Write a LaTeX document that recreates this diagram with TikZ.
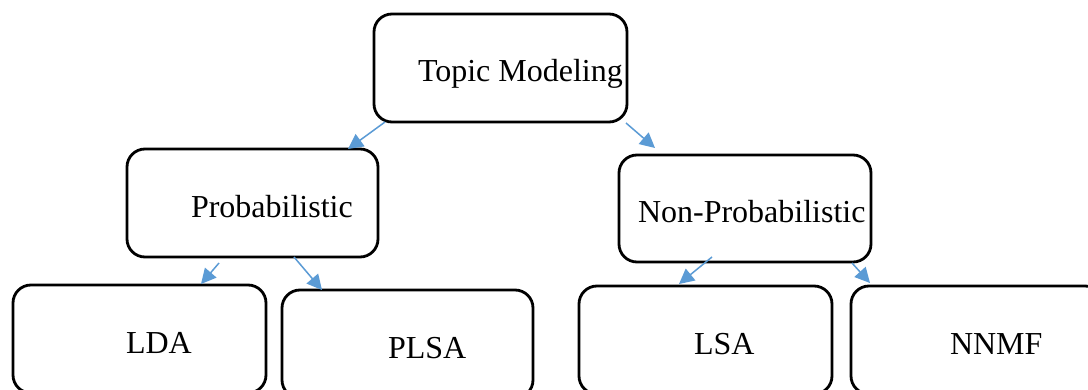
\documentclass[tikz,border=0pt]{standalone}
\usepackage{fontspec}
\setmainfont{Liberation Serif}
\usetikzlibrary{arrows.meta,calc}
\definecolor{linkblue}{RGB}{91,155,213}
\tikzset{
  box/.style={draw=black, line width=2.8pt, rounded corners=18pt, rectangle,
              minimum height=108pt, inner sep=0pt, outer sep=0pt},
  lbl/.style={anchor=base west, inner sep=0pt, outer sep=0pt,
              font=\fontsize{32}{36}\selectfont},
  link/.style={draw=linkblue, line width=1.5pt,
               -{Triangle[length=15pt,width=15pt]}}
}
\begin{document}
\begin{tikzpicture}[x=1pt,y=-1pt]
  \useasboundingbox (0,0) rectangle (1088,390);
  \clip (0,0) rectangle (1088,390);
  \fill[white] (0,0) rectangle (1088,390);

  % boxes
  \node[box, minimum width=253pt] (tm)   at (500.5,68)  {};
  \node[box, minimum width=251pt] (prob) at (252.5,203) {};
  \node[box, minimum width=252pt, minimum height=107pt] (nonp) at (745,208.5) {};
  \node[box, minimum width=253pt] (lda)  at (139.5,339) {};
  \node[box, minimum width=251pt] (plsa) at (407.5,344) {};
  \node[box, minimum width=253pt] (lsa)  at (705.5,340) {};
  \node[box, minimum width=252pt] (nnmf) at (977,340)   {};

  % labels
  \node[lbl] (tm-t)   at (418,82)  {Topic Modeling};
  \node[lbl] (prob-t) at (191,218) {Probabilistic};
  \node[lbl] (nonp-t) at (638,223) {Non-Probabilistic};
  \node[lbl] (lda-t)  at (126,353) {LDA};
  \node[lbl] (plsa-t) at (388,359) {PLSA};
  \node[lbl] (lsa-t)  at (694,355) {LSA};
  \node[lbl] (nnmf-t) at (950,355) {NNMF};

  % connectors
  \draw[link] ($(tm.south west)+(11,0)$)   -- ($(prob.north east)+(-30,0)$);
  \draw[link] ($(tm.south east)+(-1,1)$)   -- ($(nonp.north west)+(36,-7)$);
  \draw[link] ($(prob.south west)+(92,6)$) -- ($(lda.north west)+(188,-1)$);
  \draw[link] ($(prob.south west)+(167,0)$) -- ($(plsa.north west)+(40,0)$);
  \draw[link] ($(nonp.south west)+(93,-5)$) -- ($(lsa.north west)+(100,-2)$);
  \draw[link] ($(nonp.south east)+(-19,1)$) -- ($(nnmf.north west)+(19,-3)$);
\end{tikzpicture}
\end{document}
